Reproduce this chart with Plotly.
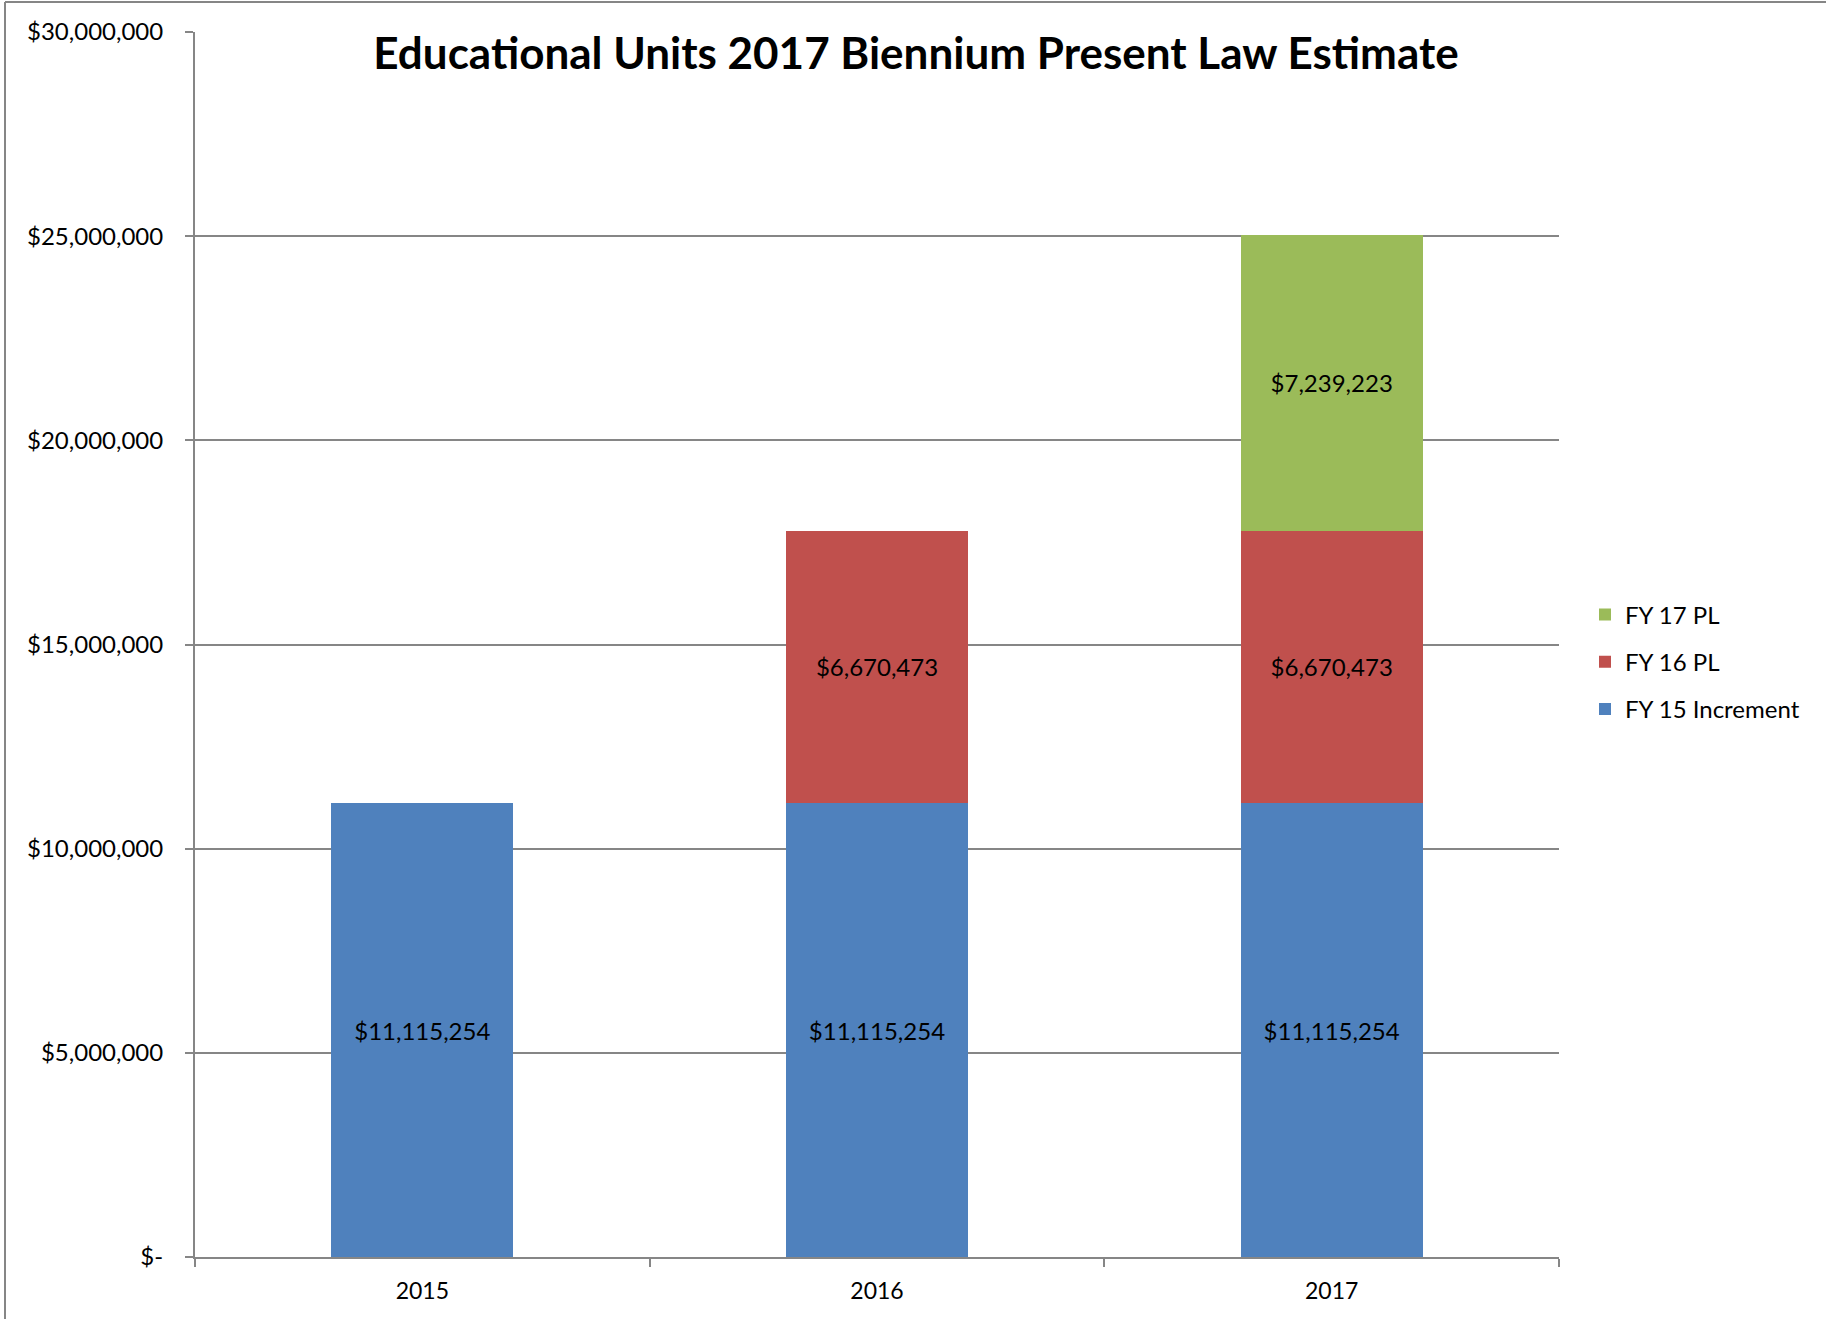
import plotly.graph_objects as go

years = ["2015", "2016", "2017"]
fy15_increment = [11115254, 11115254, 11115254]
fy16_pl = [None, 6670473, 6670473]
fy17_pl = [None, None, 7239223]
series_names = ["FY 15 Increment", "FY 16 PL", "FY 17 PL"]
colors = ["#4F81BD", "#C0504D", "#9BBB59"]
ytick_vals = [0, 5000000, 10000000, 15000000, 20000000, 25000000, 30000000]
ytick_text = ["$-", "$5,000,000", "$10,000,000", "$15,000,000", "$20,000,000", "$25,000,000", "$30,000,000"]
title = "Educational Units 2017 Biennium Present Law Estimate"

W, H = 1826, 1319
L, R, T, B = 195, 267, 32, 62
FONT = "Lato, 'Open Sans', sans-serif"

def fmt(v):
    return "" if v is None else "${:,}".format(v)

fig = go.Figure()
series = [fy15_increment, fy16_pl, fy17_pl]
for i, (name, vals, col) in enumerate(zip(series_names, series, colors)):
    fig.add_trace(go.Bar(
        x=years, y=vals, name=name, legendgroup=name, legendrank=len(series) - i,
        marker=dict(color=col, line=dict(width=0)),
        text=[fmt(v) for v in vals], textposition="inside", insidetextanchor="middle",
        textfont=dict(color="black", size=24, family=FONT), textangle=0,
        cliponaxis=False,
    ))

pw = W - L - R
ph = H - T - B
def px_x(p):
    return (p - L) / pw
def px_y(p):
    return (H - B - p) / ph

fig.update_layout(
    width=W, height=H, barmode="stack", bargap=0.6,
    margin=dict(l=L, r=R, t=T, b=B, pad=0),
    paper_bgcolor="white", plot_bgcolor="white",
    font=dict(family=FONT, color="black", size=24),
    uniformtext=dict(minsize=24, mode="show"),
    title=dict(text="<b>" + title + "</b>", xref="container", x=916 / W, xanchor="center",
               yref="container", y=1 - 54 / H, yanchor="middle",
               font=dict(size=44, family=FONT, color="black")),
    legend=dict(traceorder="grouped", x=px_x(1585), xanchor="left", y=px_y(662), yanchor="middle",
                font=dict(size=24, family=FONT), itemwidth=30, tracegroupgap=13,
                bgcolor="rgba(0,0,0,0)"),
    xaxis=dict(type="category", showline=True, linecolor="#868686", linewidth=2,
               ticks="outside", tickson="boundaries", ticklen=8, tickcolor="#868686", tickwidth=2,
               tickfont=dict(size=23, family=FONT), showgrid=False, fixedrange=True,
               ticklabelstandoff=12),
    yaxis=dict(range=[0, 30000000], tickvals=ytick_vals, ticktext=ytick_text,
               showline=True, linecolor="#868686", linewidth=2,
               ticks="outside", ticklen=8, tickcolor="#868686", tickwidth=2,
               showgrid=True, gridcolor="#868686", gridwidth=1.5, zeroline=False,
               tickfont=dict(size=24, family=FONT), ticklabelstandoff=17),
    showlegend=True,
)

# outer chart border (top and left edges)
fig.add_shape(type="line", xref="paper", yref="paper",
              x0=px_x(5), x1=px_x(W), y0=px_y(2), y1=px_y(2),
              line=dict(color="#868686", width=2), layer="above")
fig.add_shape(type="line", xref="paper", yref="paper",
              x0=px_x(5), x1=px_x(5), y0=px_y(2), y1=px_y(H),
              line=dict(color="#868686", width=2), layer="above")

fig.write_html("out.html")
